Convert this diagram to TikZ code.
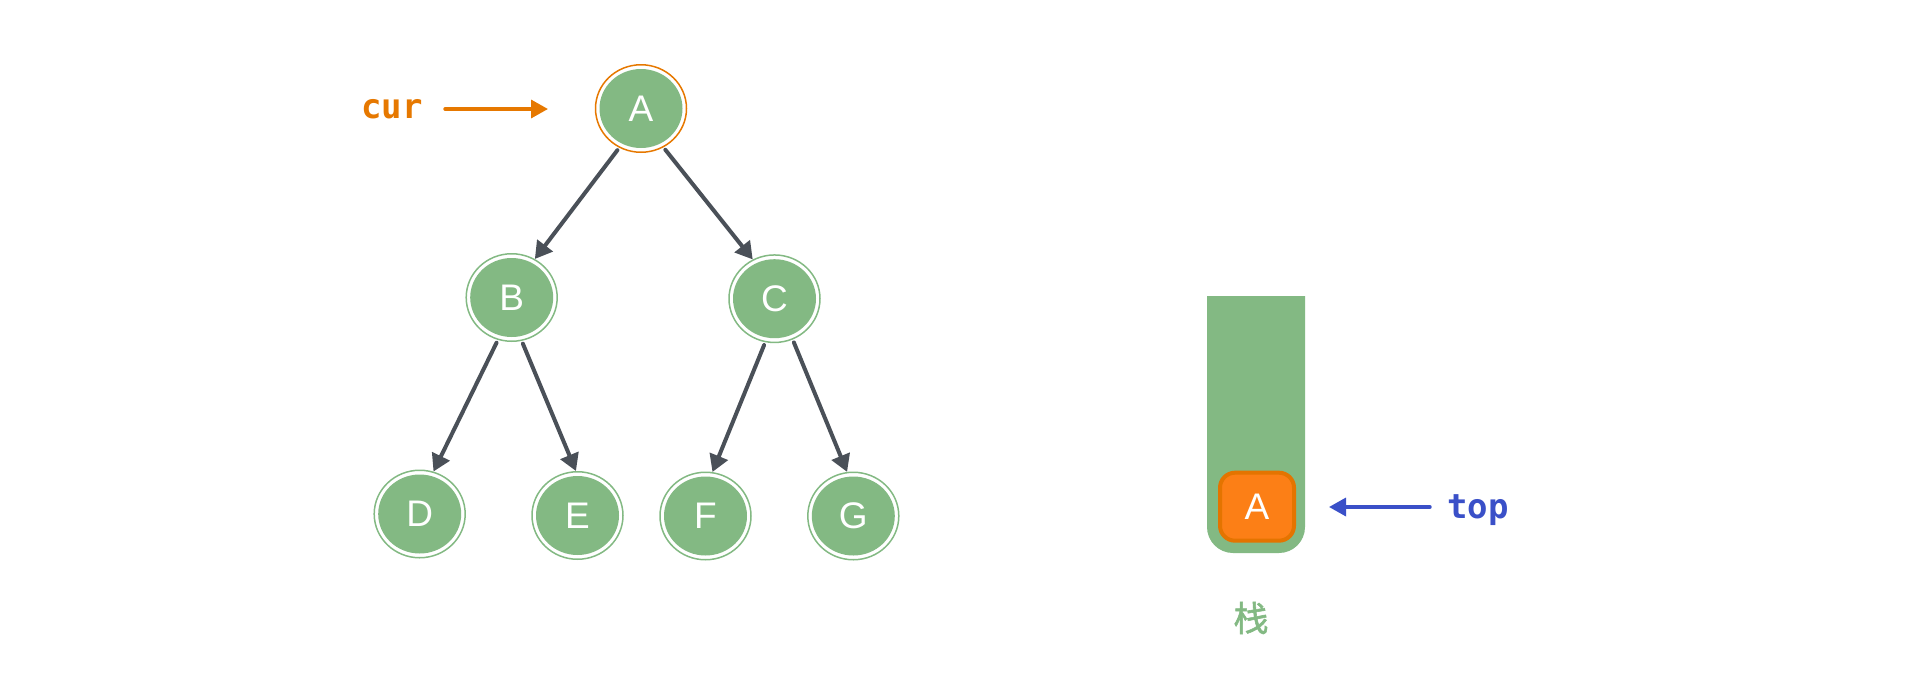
\documentclass[tikz,border=0pt]{standalone}
\usepackage{fontspec}
\setmainfont{Liberation Sans}
\newfontfamily\codefont{DejaVu Sans Mono}
\newfontfamily\cjkfont[FakeBold=1.6]{Noto Sans CJK SC}
\usetikzlibrary{shapes.geometric,arrows.meta}

\definecolor{nodegreen}{RGB}{131,185,131}
\definecolor{ringorange}{RGB}{230,120,0}
\definecolor{edgegray}{RGB}{74,80,88}
\definecolor{boxorange}{RGB}{252,127,22}
\definecolor{boxedge}{RGB}{228,116,0}
\definecolor{topblue}{RGB}{58,80,200}

\begin{document}
\begin{tikzpicture}[x=1pt,y=-1pt,
  treenode/.style={ellipse, inner sep=0pt, minimum width=91pt, minimum height=87.5pt,
    draw=nodegreen, line width=1.5pt, text=white,
    font=\fontsize{37}{40}\selectfont,
    path picture={\fill[nodegreen] (path picture bounding box.center)
      ellipse [x radius=41.5pt, y radius=39.5pt];}},
  current/.style={draw=ringorange},
  edge/.style={draw=edgegray, line width=4pt, line cap=round,
    -{Triangle[length=17pt,width=19pt]}, shorten <=3pt},
  pointer/.style={line width=3.4pt, line cap=round,
    -{Triangle[length=17pt,width=18pt]}},
  codelabel/.style={inner sep=0pt, font=\codefont\bfseries\fontsize{34}{40}\selectfont},
  stackbox/.style={rectangle, rounded corners=15pt, minimum width=74pt, minimum height=68pt,
    fill=boxorange, draw=boxedge, line width=4pt, text=white,
    font=\fontsize{37}{40}\selectfont}
]
\useasboundingbox (0,0) rectangle (1912,678);

% binary tree
\node[treenode, current] (A) at (641,108.5) {A};
\node[treenode] (B) at (511.7,297.5) {B};
\node[treenode] (C) at (774.5,298.7) {C};
\node[treenode] (D) at (419.7,514) {D};
\node[treenode] (E) at (577.5,515.5) {E};
\node[treenode] (F) at (705.5,516) {F};
\node[treenode] (G) at (853.3,516) {G};

\draw[edge] (A.241) -- (B.59);
\draw[edge] (A.300) -- (C.119);
\draw[edge] (B.252) -- (D.72);
\draw[edge] (B.283) -- (E.92);
\draw[edge] (C.258) -- (F.81);
\draw[edge] (C.294) -- (G.98);

% cur pointer
\node[codelabel, text=ringorange, anchor=base] (curlabel) at (392,118.3) {cur};
\coordinate (curStart) at (445,109);
\coordinate (curTip) at (548,109);
\draw[pointer, draw=ringorange, fill=ringorange] (curStart) -- (curTip);

% stack
\fill[nodegreen, rounded corners=26pt] (1207,296) -- (1207,553) -- (1305,553) -- (1305,296);
\node[stackbox] (SA) at (1257,506.7) {A};
\node[text=nodegreen, inner sep=0pt, font=\cjkfont\fontsize{35}{40}\selectfont] (stacklabel) at (1251,618) {栈};

% top pointer
\node[codelabel, text=topblue, anchor=base] (toplabel) at (1478,518) {top};
\coordinate (topStart) at (1430,507);
\coordinate (topTip) at (1329,507);
\draw[pointer, draw=topblue, fill=topblue] (topStart) -- (topTip);
\end{tikzpicture}
\end{document}
